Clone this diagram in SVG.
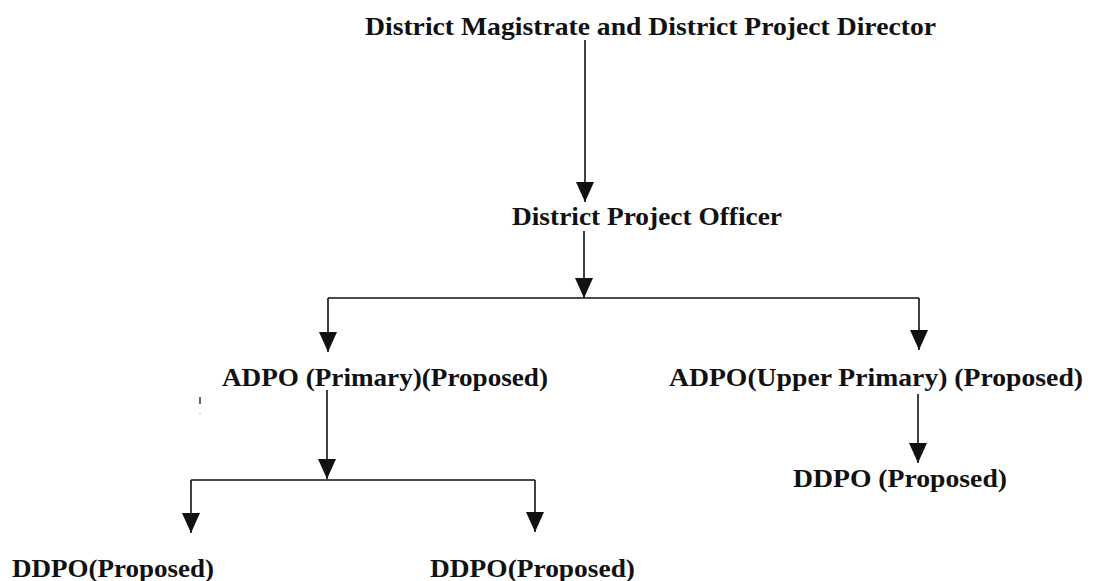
<svg xmlns="http://www.w3.org/2000/svg" width="1095" height="581" viewBox="0 0 1095 581">
  <style>
    .lbl { font-family: "Liberation Serif", "Times New Roman", serif; font-weight: bold; font-size: 25px; fill: #111; }
    .wire { fill: none; stroke: #111; stroke-width: 1.6; }
    .arr { marker-end: url(#head); }
  </style>
  <defs>
    <marker id="head" viewBox="0 0 20 18" markerWidth="20" markerHeight="18" refX="20" refY="9" orient="auto" markerUnits="userSpaceOnUse">
      <path d="M0,0 L20,9 L0,18 Z" fill="#111"/>
    </marker>
  </defs>
  <rect width="1095" height="581" fill="#fff"/>

  <g id="connectors">
    <!-- director -> project officer -->
    <path class="wire arr" d="M585,40 V202"/>
    <!-- project officer -> split bar -->
    <path class="wire arr" d="M584,231 V298"/>
    <path class="wire" d="M328,298 H919"/>
    <path class="wire arr" d="M328,298 V352"/>
    <path class="wire arr" d="M919,298 V350"/>
    <!-- ADPO primary -> split bar -->
    <path class="wire arr" d="M327,390 V479"/>
    <path class="wire" d="M191,480 H535"/>
    <path class="wire arr" d="M191,480 V533"/>
    <path class="wire arr" d="M535,480 V532"/>
    <!-- ADPO upper primary -> DDPO -->
    <path class="wire arr" d="M918,394 V463"/>
  </g>

  <g id="n-director">
    <text class="lbl" x="365" y="35" textLength="571" lengthAdjust="spacingAndGlyphs">District Magistrate and District Project Director</text>
  </g>
  <g id="n-dpo">
    <text class="lbl" x="512" y="225" textLength="270" lengthAdjust="spacingAndGlyphs">District Project Officer</text>
  </g>
  <g id="n-adpo-primary">
    <text class="lbl" x="222" y="386" textLength="326" lengthAdjust="spacingAndGlyphs">ADPO (Primary)(Proposed)</text>
  </g>
  <g id="n-adpo-upper">
    <text class="lbl" x="669" y="386" textLength="414" lengthAdjust="spacingAndGlyphs">ADPO(Upper Primary) (Proposed)</text>
  </g>
  <g id="n-ddpo-upper">
    <text class="lbl" x="793" y="487" textLength="214" lengthAdjust="spacingAndGlyphs">DDPO (Proposed)</text>
  </g>
  <g id="n-ddpo-left">
    <text class="lbl" x="12" y="577" textLength="202" lengthAdjust="spacingAndGlyphs">DDPO(Proposed)</text>
  </g>
  <g id="n-ddpo-right">
    <text class="lbl" x="430" y="577" textLength="205" lengthAdjust="spacingAndGlyphs">DDPO(Proposed)</text>
  </g>

  <!-- small speck -->
  <g id="speck">
    <path d="M200,397 V404" stroke="#333" stroke-width="1.5"/>
    <rect x="199.5" y="413" width="1" height="1" fill="#888"/>
  </g>
</svg>
